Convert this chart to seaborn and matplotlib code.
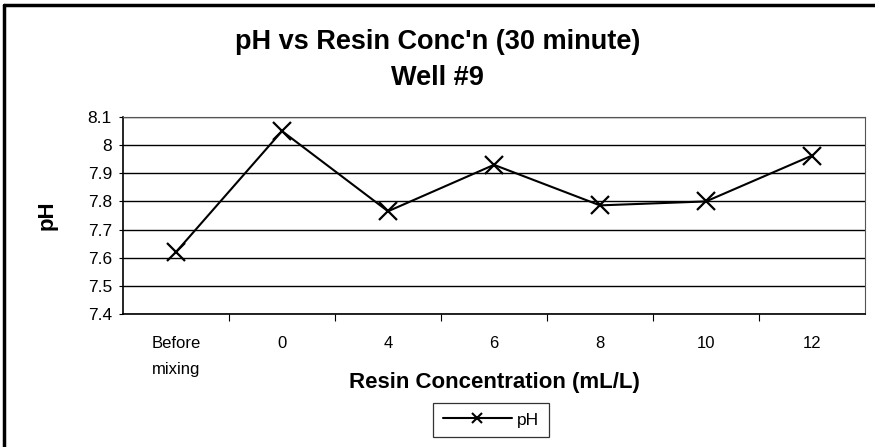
import matplotlib
matplotlib.use("Agg")
import matplotlib.pyplot as plt
from matplotlib.lines import Line2D
import seaborn as sns
import pandas as pd

# Data
categories = ["Before\nmixing", "0", "4", "6", "8", "10", "12"]
ph_values = [7.62, 8.05, 7.765, 7.93, 7.786, 7.80, 7.963]
y_ticks = [7.4, 7.5, 7.6, 7.7, 7.8, 7.9, 8.0, 8.1]
y_tick_labels = ["7.4", "7.5", "7.6", "7.7", "7.8", "7.9", "8", "8.1"]

df = pd.DataFrame({"pos": range(len(categories)), "pH": ph_values})

sns.set_theme(style="white")
plt.rcParams["font.family"] = ["Liberation Sans", "DejaVu Sans"]
plt.rcParams.update({
    "text.color": "black",
    "axes.labelcolor": "black",
    "xtick.color": "black",
    "ytick.color": "black",
})

fig = plt.figure(figsize=(8.75, 4.47), dpi=100)
ax = fig.add_axes([123 / 875, 1 - 314 / 447, 742 / 875, 197 / 447])

sns.lineplot(data=df, x="pos", y="pH", ax=ax, color="black", linewidth=1.5,
             marker="x", markersize=13, markeredgewidth=1.6,
             markeredgecolor="black", legend=False)

ax.set_xlim(-0.5, len(categories) - 0.5)
ax.set_ylim(7.4, 8.1)

# Horizontal gridlines
ax.set_yticks(y_ticks)
ax.set_yticklabels(y_tick_labels, fontsize=12.5)
ax.yaxis.grid(True, color="black", linewidth=1.0)
ax.xaxis.grid(False)
ax.tick_params(axis="y", left=True, length=3, width=0.8, color="black", pad=5)

# Category labels centred, tick marks between categories
ax.set_xticks(range(len(categories)))
ax.set_xticklabels(categories, fontsize=12, linespacing=1.9, va="top")
ax.set_xticks([i + 0.5 for i in range(len(categories) - 1)], minor=True)
ax.tick_params(axis="x", which="major", bottom=False, pad=10)
ax.tick_params(axis="x", which="minor", bottom=True, length=5, width=0.8,
               color="black", direction="out")

for side, spine in ax.spines.items():
    spine.set_visible(True)
    spine.set_color("#555555" if side in ("top", "right") else "black")
    spine.set_linewidth(0.8 if side in ("top", "right") else 1.2)

ax.set_xlabel("Resin Concentration (mL/L)", fontsize=16, fontweight="bold",
              va="center")
ax.xaxis.set_label_coords(0.5, (314 - 383) / 197)
ax.set_ylabel("pH", fontsize=16, fontweight="bold", labelpad=22)

fig.text(0.5, 1 - 42 / 447, "pH vs Resin Conc'n (30 minute)", ha="center",
         va="center", fontsize=19.5, fontweight="bold")
fig.text(0.5, 1 - 78 / 447, "Well #9", ha="center", va="center",
         fontsize=19.5, fontweight="bold")

# Legend
handle = Line2D([], [], color="black", linewidth=1.5, marker="x",
                markersize=7, markeredgewidth=1.5)
leg = fig.legend([handle], ["pH"], loc="center", fontsize=12.5,
                 bbox_to_anchor=(491 / 875, 1 - 420 / 447), frameon=True,
                 fancybox=False, edgecolor="black", handlelength=4.0,
                 handletextpad=0.3, borderpad=0.55, borderaxespad=0)
leg.get_frame().set_linewidth(0.9)

# Chart frame (top and left edges)
fig.add_artist(Line2D([4 / 875, 4 / 875], [0, 1 - 5 / 447],
                      transform=fig.transFigure, color="black", linewidth=2.5))
fig.add_artist(Line2D([4 / 875, 1], [1 - 5 / 447, 1 - 5 / 447],
                      transform=fig.transFigure, color="black", linewidth=2.5))

fig.savefig("out.png", dpi=100)
